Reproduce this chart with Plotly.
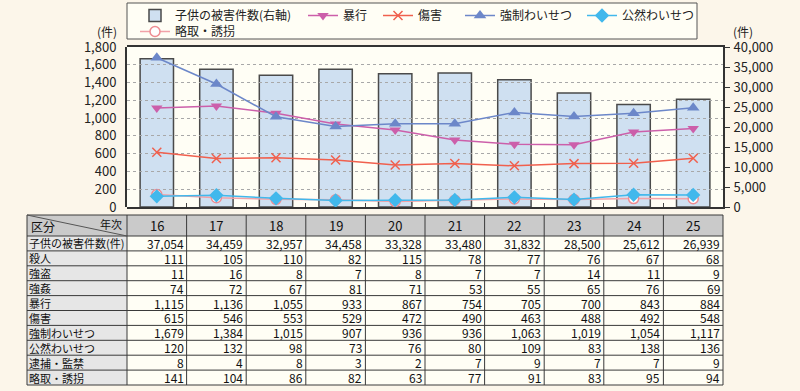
import plotly.graph_objects as go

# ---------------- data ----------------
years = ["16", "17", "18", "19", "20", "21", "22", "23", "24", "25"]
children_total = [37054, 34459, 32957, 34458, 33328, 33480, 31832, 28500, 25612, 26939]
murder = [111, 105, 110, 82, 115, 78, 77, 76, 67, 68]
robbery = [11, 16, 8, 7, 8, 7, 7, 14, 11, 9]
rape = [74, 72, 67, 81, 71, 53, 55, 65, 76, 69]
assault = [1115, 1136, 1055, 933, 867, 754, 705, 700, 843, 884]
injury = [615, 546, 553, 529, 472, 490, 463, 488, 492, 548]
indecent_assault = [1679, 1384, 1015, 907, 936, 936, 1063, 1019, 1054, 1117]
public_indecency = [120, 132, 98, 73, 76, 80, 109, 83, 138, 136]
confinement = [8, 4, 8, 3, 2, 7, 9, 7, 7, 9]
kidnapping = [141, 104, 86, 82, 63, 77, 91, 83, 95, 94]

left_ticks = list(range(0, 1801, 200))
right_ticks = list(range(0, 40001, 5000))

table_rows = [
    ("子供の被害件数(件)", children_total),
    ("殺人", murder),
    ("強盗", robbery),
    ("強姦", rape),
    ("暴行", assault),
    ("傷害", injury),
    ("強制わいせつ", indecent_assault),
    ("公然わいせつ", public_indecency),
    ("逮捕・監禁", confinement),
    ("略取・誘拐", kidnapping),
]

# ---------------- layout helpers ----------------
W, H = 800, 391
FONT = "Noto Sans CJK JP"


def px(x):
    return x / W


def py(y):
    return 1 - y / H


plot_l, plot_r, plot_t, plot_b = 127, 723, 47, 207
xdom = [px(plot_l), px(plot_r)]
ydom = [py(plot_b), py(plot_t)]

fig = go.Figure()

# bars (right axis)
fig.add_trace(go.Bar(
    x=years, y=children_total, name="子供の被害件数(右軸)",
    marker=dict(color="#CFE0F1", line=dict(color="#4A4A4A", width=1.5)),
    width=0.56, xaxis="x", yaxis="y", legend="legend",
))

line_specs = [
    ("暴行", assault, "#CC5FAA", dict(symbol="triangle-down", size=10, color="#CC5FAA"), "legend2"),
    ("傷害", injury, "#F0604E", dict(symbol="x-thin", size=9, color="#F0604E",
                                     line=dict(color="#F0604E", width=1.5)), "legend3"),
    ("強制わいせつ", indecent_assault, "#6C87C9", dict(symbol="triangle-up", size=11, color="#6C87C9"), "legend4"),
    ("公然わいせつ", public_indecency, "#41B8EC", dict(symbol="diamond", size=11, color="#41B8EC"), "legend5"),
    ("略取・誘拐", kidnapping, "#F2A2A8", dict(symbol="circle", size=10, color="#FFFFFF",
                                            line=dict(color="#EE8C92", width=1.5)), "legend6"),
]
# draw kidnapping before public indecency so the cyan diamonds sit on top
order = [0, 1, 2, 4, 3]
for i in order:
    name, vals, col, mk, lg = line_specs[i]
    fig.add_trace(go.Scatter(
        x=years, y=vals, name=name, mode="lines+markers",
        line=dict(color=col, width=1.5), marker=mk,
        xaxis="x2", yaxis="y2", legend=lg,
    ))

# ---------------- shapes: backgrounds ----------------
shapes = []
annotations = []

# plot background
shapes.append(dict(type="rect", xref="paper", yref="paper", layer="below",
                   x0=xdom[0], x1=xdom[1], y0=ydom[0], y1=ydom[1],
                   fillcolor="#FFFEF5", line=dict(width=0)))
# legend box
shapes.append(dict(type="rect", xref="paper", yref="paper", layer="below",
                   x0=px(127), x1=px(697), y0=py(39), y1=py(3),
                   fillcolor="#FFFEF5", line=dict(color="#555555", width=1)))

# ---------------- table ----------------
tbl_left, tbl_first, tbl_right = 27, 127, 723
hdr_top, hdr_bot, tbl_bot = 215, 236, 385
ncol = len(years)
col_w = (tbl_right - tbl_first) / ncol
row_h = (tbl_bot - hdr_bot) / len(table_rows)

shapes.append(dict(type="rect", xref="paper", yref="paper", layer="below",
                   x0=px(tbl_left), x1=px(tbl_right), y0=py(hdr_bot), y1=py(hdr_top),
                   fillcolor="#CACACA", line=dict(width=0)))
shapes.append(dict(type="rect", xref="paper", yref="paper", layer="below",
                   x0=px(tbl_left), x1=px(tbl_first), y0=py(tbl_bot), y1=py(hdr_bot),
                   fillcolor="#E6E6E6", line=dict(width=0)))
shapes.append(dict(type="rect", xref="paper", yref="paper", layer="below",
                   x0=px(tbl_first), x1=px(tbl_right), y0=py(tbl_bot), y1=py(hdr_bot),
                   fillcolor="#FFFEF5", line=dict(width=0)))
grid_line = dict(color="#3A3A3A", width=1)
for r in range(len(table_rows) + 2):
    yy = hdr_top if r == 0 else hdr_bot + (r - 1) * row_h
    shapes.append(dict(type="line", xref="paper", yref="paper",
                       x0=px(tbl_left), x1=px(tbl_right), y0=py(yy), y1=py(yy),
                       line=grid_line))
xs = [tbl_left, tbl_first] + [tbl_first + (c + 1) * col_w for c in range(ncol)]
for xx in xs:
    shapes.append(dict(type="line", xref="paper", yref="paper",
                       x0=px(xx), x1=px(xx), y0=py(tbl_bot), y1=py(hdr_top),
                       line=grid_line))
shapes.append(dict(type="line", xref="paper", yref="paper",
                   x0=px(tbl_left), x1=px(tbl_first), y0=py(hdr_top), y1=py(hdr_bot),
                   line=dict(color="#555555", width=1)))

lfont = dict(family=FONT, size=11, color="#111111")
nfont = dict(family=FONT, size=12, color="#111111")
annotations.append(dict(xref="paper", yref="paper", x=px(tbl_left + 3), y=py(hdr_bot),
                        text="区分", showarrow=False, xanchor="left", yanchor="bottom",
                        borderpad=0, font=dict(family=FONT, size=12, color="#111111")))
annotations.append(dict(xref="paper", yref="paper", x=px(tbl_first - 4), y=py(hdr_top),
                        text="年次", showarrow=False, xanchor="right", yanchor="top",
                        borderpad=0, font=dict(family=FONT, size=11, color="#111111")))
for c, yr in enumerate(years):
    cx = tbl_first + (c + 0.5) * col_w
    annotations.append(dict(xref="paper", yref="paper", x=px(cx), y=py((hdr_top + hdr_bot) / 2),
                            text=yr, showarrow=False, xanchor="center", yanchor="middle",
                            borderpad=0, font=dict(family=FONT, size=13, color="#111111")))
for r, (label, vals) in enumerate(table_rows):
    cy = hdr_bot + (r + 0.5) * row_h
    annotations.append(dict(xref="paper", yref="paper", x=px(tbl_left + 1), y=py(cy),
                            text=label, showarrow=False, xanchor="left", yanchor="middle",
                            borderpad=0, font=lfont))
    for c, v in enumerate(vals):
        rx = tbl_first + (c + 1) * col_w - 2
        annotations.append(dict(xref="paper", yref="paper", x=px(rx), y=py(cy),
                                text=f"{v:,}", showarrow=False, xanchor="right", yanchor="middle",
                                borderpad=0, font=nfont))

# unit labels
annotations.append(dict(xref="paper", yref="paper", x=px(118), y=py(31), text="(件)",
                        showarrow=False, xanchor="right", yanchor="middle", borderpad=0,
                        font=dict(family=FONT, size=12, color="#222222")))
annotations.append(dict(xref="paper", yref="paper", x=px(732), y=py(31), text="(件)",
                        showarrow=False, xanchor="left", yanchor="middle", borderpad=0,
                        font=dict(family=FONT, size=12, color="#222222")))

axis_font = dict(family=FONT, size=13, color="#222222")

# legend placement: (text start x, row centre y) per legend
legend_pos = {"legend": (175, 15), "legend2": (343, 15), "legend3": (418, 15),
              "legend4": (500, 15), "legend5": (622, 15), "legend6": (175, 31)}
legend_layouts = {}
for key, (tx, cy) in legend_pos.items():
    legend_layouts[key] = dict(orientation="h", x=px(tx - 40), y=py(cy - 14),
                               xanchor="left", yanchor="top", bgcolor="rgba(0,0,0,0)",
                               borderwidth=0, font=dict(family=FONT, size=12, color="#222222"))

fig.update_layout(
    width=W, height=H, autosize=False,
    margin=dict(l=0, r=0, t=0, b=0, pad=0, autoexpand=False),
    paper_bgcolor="#FCF6EA", plot_bgcolor="rgba(0,0,0,0)",
    font=dict(family=FONT, size=12, color="#222222"),
    showlegend=True,
    xaxis=dict(domain=xdom, type="category", range=[-0.5, len(years) - 0.5],
               anchor="y", showticklabels=False, ticks="inside", tickson="boundaries",
               ticklen=4, tickcolor="#444444", showline=True, linecolor="#333333",
               linewidth=2, mirror=True, showgrid=False, automargin=False),
    yaxis=dict(domain=ydom, anchor="x", side="right", range=[0, 40000],
               tickvals=right_ticks, tickformat=",", ticks="outside", ticklen=5,
               tickcolor="#333333", showline=True, linecolor="#333333", linewidth=2,
               showgrid=False, zeroline=False, tickfont=axis_font, automargin=False,
               ticklabelstandoff=1),
    xaxis2=dict(domain=xdom, type="category", range=[-0.5, len(years) - 0.5],
                anchor="y2", visible=False, showgrid=False, automargin=False),
    yaxis2=dict(domain=ydom, anchor="x2", side="left", range=[0, 1800],
                tickvals=left_ticks, tickformat=",", ticks="", showline=True,
                linecolor="#333333", linewidth=2, showgrid=True, gridcolor="#A8A8A8",
                griddash="3px,3px", gridwidth=1, zeroline=False, tickfont=axis_font,
                ticklabelstandoff=6, automargin=False),
    shapes=shapes,
    annotations=annotations,
    **legend_layouts,
)

fig.write_html("out.html", config={"displayModeBar": False},
               post_script="document.body.style.margin='0px';")
